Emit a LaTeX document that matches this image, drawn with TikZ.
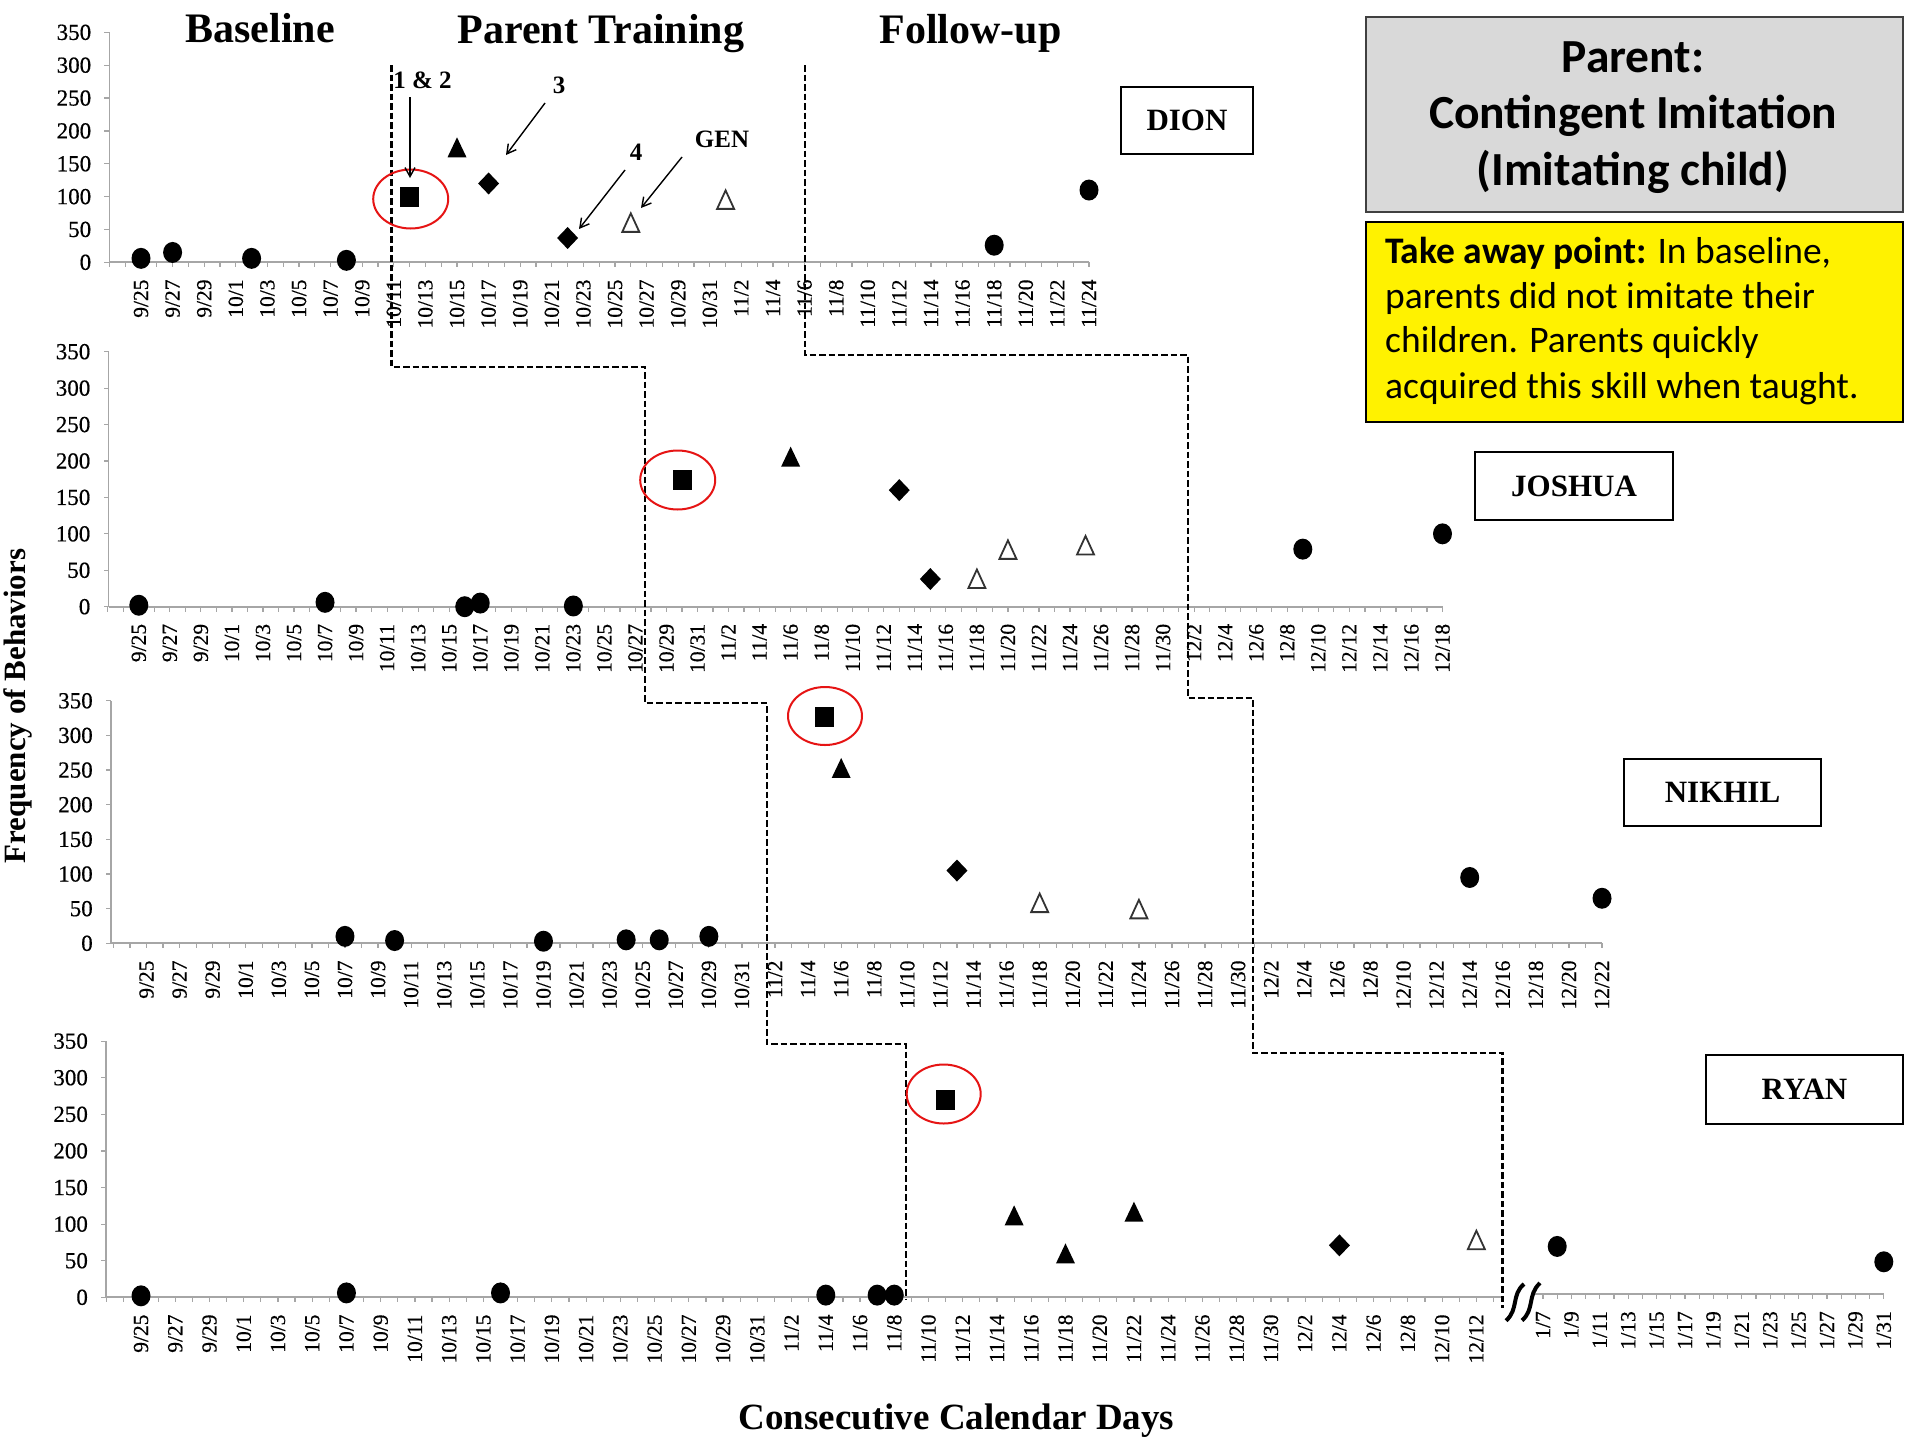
\documentclass[tikz,border=0pt]{standalone}
\usepackage{fontspec}
\setmainfont{Liberation Serif}
\newfontfamily\calib{Carlito}
\newfontfamily\tickfont{Liberation Serif}[FakeBold=0.5]
\usetikzlibrary{arrows.meta,calc}

\definecolor{axisgray}{RGB}{166,166,166}
\definecolor{boxgray}{RGB}{217,217,217}
\definecolor{ringred}{RGB}{230,20,20}

\tikzset{
  axisline/.style={draw=axisgray, line width=1.8pt},
  tickmark/.style={draw=axisgray, line width=1.2pt},
  phaseline/.style={draw=black, line width=2.3pt, dash pattern=on 6.5pt off 3pt},
  xlab/.style={rotate=90, anchor=east, inner sep=0pt, font=\tickfont\fontsize{21.5}{21.5}\selectfont},
  ylab/.style={anchor=east, inner sep=0pt, font=\tickfont\fontsize{23}{23}\selectfont},
  phasetitle/.style={anchor=base, inner sep=0pt, font=\fontsize{42}{42}\selectfont\bfseries},
  namebox/.style={draw=black, line width=1.8pt, fill=white, inner sep=0pt,
    font=\fontsize{31}{31}\selectfont\bfseries},
  note/.style={anchor=base, inner sep=0pt, font=\fontsize{25}{25}\selectfont\bfseries},
  callout/.style={draw=black, line width=1.4pt, -{Straight Barb[length=9pt,width=10pt]}},
  ring/.style={draw=ringred, line width=2pt},
  mdot/.pic={\fill (0,0) ellipse [x radius=9.5pt, y radius=10.5pt];},
  msq/.pic={\fill (-9.5pt,-10pt) rectangle (9.5pt,10pt);},
  mtri/.pic={\fill (-9.5pt,-10pt) -- (9.5pt,-10pt) -- (0pt,10pt) -- cycle;},
  mdia/.pic={\fill (0pt,-11pt) -- (10.5pt,0pt) -- (0pt,11pt) -- (-10.5pt,0pt) -- cycle;},
  motri/.pic={\draw[line width=1.8pt, draw=black!80, fill=white, line join=miter]
    (-8.5pt,-9pt) -- (8.5pt,-9pt) -- (0pt,9.5pt) -- cycle;},
}

% session dates, every second calendar day from 9/25
\def\datelist{9/25,9/27,9/29,10/1,10/3,10/5,10/7,10/9,10/11,10/13,10/15,10/17,10/19,10/21,10/23,10/25,10/27,10/29,10/31,11/2,11/4,11/6,11/8,11/10,11/12,11/14,11/16,11/18,11/20,11/22,11/24,11/26,11/28,11/30,12/2,12/4,12/6,12/8,12/10,12/12,12/14,12/16,12/18,12/20,12/22}

% axes of one panel: #1 axis start (days from 9/25), #2 axis end,
% #3 last tick day, #4 number of date labels, #5 name prefix
\newcommand\chartaxes[5]{%
  \draw[axisline] (#1,0) -- (#2,0);
  \draw[axisline] (#1,0) -- (#1,350);
  \foreach \v in {0,50,...,350}{
    \draw[tickmark] (#1,\v) -- ++(-5pt,0pt);
    \node[ylab] (#5y\v) at ($(#1,\v)+(-18pt,0pt)$) {\v};
  }
  \foreach \d in {-2,...,#3}{\draw[tickmark] (\d,0) -- ++(0pt,-5pt);}
  \foreach \lab [count=\i from 0] in \datelist {
    \ifnum\i<#4\relax
      \node[xlab] (#5x\i) at ($({2*\i},0)+(0pt,-17pt)$) {\lab};
    \fi}
}

\begin{document}
\begin{tikzpicture}[x=1pt,y=-1pt]
\useasboundingbox (0,0) rectangle (1905,1440);
\fill[white] (0,0) rectangle (1905,1440);

% ---------- DION ----------
\begin{scope}[shift={(141,262.3)}, x=15.8pt, y=0.657pt]
  \chartaxes{-2}{60}{60}{31}{pa}
  \pic at (0,6) {mdot}; \pic at (2,15) {mdot}; \pic at (7,6) {mdot}; \pic at (13,3) {mdot};
  \pic at (17,100) {msq};
  \pic at (20,175) {mtri};
  \pic at (22,120) {mdia}; \pic at (27,37) {mdia};
  \pic at (31,60) {motri}; \pic at (37,95) {motri};
  \pic at (54,26) {mdot}; \pic at (60,110) {mdot};
\end{scope}

% ---------- JOSHUA ----------
\begin{scope}[shift={(138.8,606.7)}, x=15.52pt, y=0.7286pt]
  \chartaxes{-1.95}{84}{84}{43}{pb}
  \pic at (0,2) {mdot}; \pic at (12,6) {mdot}; \pic at (21,0) {mdot};
  \pic at (22,5) {mdot}; \pic at (28,1) {mdot};
  \pic at (35,174) {msq};
  \pic at (42,206) {mtri};
  \pic at (49,160) {mdia}; \pic at (51,38) {mdia};
  \pic at (54,38) {motri}; \pic at (56,78) {motri}; \pic at (61,84) {motri};
  \pic at (75,79) {mdot}; \pic at (84,100) {mdot};
\end{scope}

% ---------- NIKHIL ----------
\begin{scope}[shift={(146.5,943.3)}, x=16.54pt, y=0.693pt]
  \chartaxes{-2.15}{88}{88}{45}{pc}
  \pic at (12,10) {mdot}; \pic at (15,4) {mdot}; \pic at (24,3) {mdot};
  \pic at (29,5) {mdot}; \pic at (31,5) {mdot}; \pic at (34,10) {mdot};
  \pic at (41,327) {msq};
  \pic at (42,253) {mtri};
  \pic at (49,105) {mdia};
  \pic at (54,58) {motri}; \pic at (60,49) {motri};
  \pic at (80,95) {mdot}; \pic at (88,65) {mdot};
\end{scope}

% ---------- RYAN ----------
\begin{scope}[shift={(141,1297.3)}, x=17.12pt, y=0.732pt]
  \chartaxes{-2.04}{79.5}{79}{40}{pd}
  \pic at (0,2) {mdot}; \pic at (12,6) {mdot}; \pic at (21,6) {mdot};
  \pic at (40,3) {mdot}; \pic at (43,3) {mdot}; \pic at (44,3) {mdot};
  \pic at (47,270) {msq};
  \pic at (51,112) {mtri}; \pic at (54,60) {mtri}; \pic at (58,117) {mtri};
  \pic at (70,71) {mdia};
  \pic at (78,78) {motri};
\end{scope}
% January part of the RYAN axis, after the break
\begin{scope}[shift={(1443.6,1294)}, x=14.2pt, y=0.732pt]
  \draw[axisline] (6.3,0) -- (31,0);
  \foreach \d in {7,...,31}{\draw[tickmark] (\d,0) -- ++(0pt,-5pt);}
  \foreach \lab [count=\i from 0] in {1/7,1/9,1/11,1/13,1/15,1/17,1/19,1/21,1/23,1/25,1/27,1/29,1/31}
    \node[xlab] (pdj\i) at ($({7+2*\i},0)+(0pt,-17pt)$) {\lab};
  \pic at (8,65) {mdot}; \pic at (31,44) {mdot};
\end{scope}
% axis break
\draw[line width=4pt] (1506,1320.7) .. controls (1519,1309) and (1511,1295) .. (1524,1284);
\draw[line width=4pt] (1522,1320.5) .. controls (1535,1309) and (1527,1295) .. (1540,1283);

% ---------- phase change lines ----------
\draw[phaseline] (391.5,65) -- (391.5,367) -- (645,367) -- (645,703) -- (767,703)
  -- (767,1044) -- (906,1044) -- (906,1300);
\draw[phaseline] (805,65) -- (805,355) -- (1188,355) -- (1188,698) -- (1253,698)
  -- (1253,1053) -- (1502.6,1053) -- (1502.6,1308);

% ---------- first session of training, circled ----------
\draw[ring] (410.7,199) ellipse [x radius=37.5pt, y radius=29.5pt];
\draw[ring] (677.7,480) ellipse [x radius=37.5pt, y radius=29.5pt];
\draw[ring] (825,716) ellipse [x radius=37pt, y radius=29pt];
\draw[ring] (943.7,1094) ellipse [x radius=37pt, y radius=29.5pt];

% ---------- phase titles ----------
\node[phasetitle] (tbase) at (260,42) {Baseline};
\node[phasetitle] (ttrain) at (601,43) {Parent Training};
\node[phasetitle] (tfollow) at (970.5,43) {Follow-up};

% ---------- step annotations ----------
\node[note] (n12) at (422.5,88) {1 \& 2};
\node[note] (n3) at (559,93) {3};
\node[note] (n4) at (636,160) {4};
\node[note] (ngen) at (722,147) {GEN};
\coordinate (a12s) at (410,97);  \coordinate (a12e) at (410,178);
\coordinate (a3s) at (545,103);  \coordinate (a3e) at (506,155);
\coordinate (a4s) at (625,170);  \coordinate (a4e) at (579,229);
\coordinate (ags) at (682,157);  \coordinate (age) at (641,208);
\draw[callout] (a12s) -- (a12e);
\draw[callout] (a3s) -- (a3e);
\draw[callout] (a4s) -- (a4e);
\draw[callout] (ags) -- (age);

% ---------- participant boxes ----------
\node[namebox, minimum width=132pt, minimum height=67pt] (bdion) at (1187,120.5) {DION};
\node[namebox, minimum width=198pt, minimum height=68pt] (bjosh) at (1574,486) {JOSHUA};
\node[namebox, minimum width=197pt, minimum height=67pt] (bnik) at (1722.5,792.8) {NIKHIL};
\node[namebox, minimum width=197pt, minimum height=69pt] (bryan) at (1804.5,1089.5) {RYAN};

% ---------- axis titles ----------
\node[rotate=90, inner sep=0pt, font=\fontsize{31}{31}\selectfont\bfseries] (ytitle) at (18,706) {Frequency of Behaviors};
\node[anchor=base, inner sep=0pt, font=\fontsize{37}{37}\selectfont\bfseries] (xtitle) at (956.5,1429) {Consecutive Calendar Days};

% ---------- heading and note ----------
\node[draw=black!75, line width=2pt, fill=boxgray, anchor=north west, inner sep=0pt,
  minimum width=536.5pt, minimum height=194.7pt] (headbox) at (1365,16) {};
\node[anchor=base, inner sep=0pt, font=\calib\fontsize{47.5}{47.5}\selectfont\bfseries] (h1) at (1633,72) {Parent:};
\node[anchor=base, inner sep=0pt, font=\calib\fontsize{47.5}{47.5}\selectfont\bfseries] (h2) at (1633,128) {Contingent Imitation};
\node[anchor=base, inner sep=0pt, font=\calib\fontsize{47.5}{47.5}\selectfont\bfseries] (h3) at (1633,185) {(Imitating child)};

\node[draw=black, line width=2pt, fill=yellow, anchor=north west, inner sep=0pt,
  minimum width=536.5pt, minimum height=200pt] (notebox) at (1365,220.7) {};
\node[anchor=base west, inner sep=0pt, font=\calib\fontsize{37.5}{37.5}\selectfont] (t1) at (1385,263) {\textbf{Take away point:} In baseline,};
\node[anchor=base west, inner sep=0pt, font=\calib\fontsize{37.5}{37.5}\selectfont] (t2) at (1385,308) {parents did not imitate their};
\node[anchor=base west, inner sep=0pt, font=\calib\fontsize{37.5}{37.5}\selectfont] (t3) at (1385,352) {children. Parents quickly};
\node[anchor=base west, inner sep=0pt, font=\calib\fontsize{37.5}{37.5}\selectfont] (t4) at (1385,398) {acquired this skill when taught.};
\end{tikzpicture}
\end{document}
